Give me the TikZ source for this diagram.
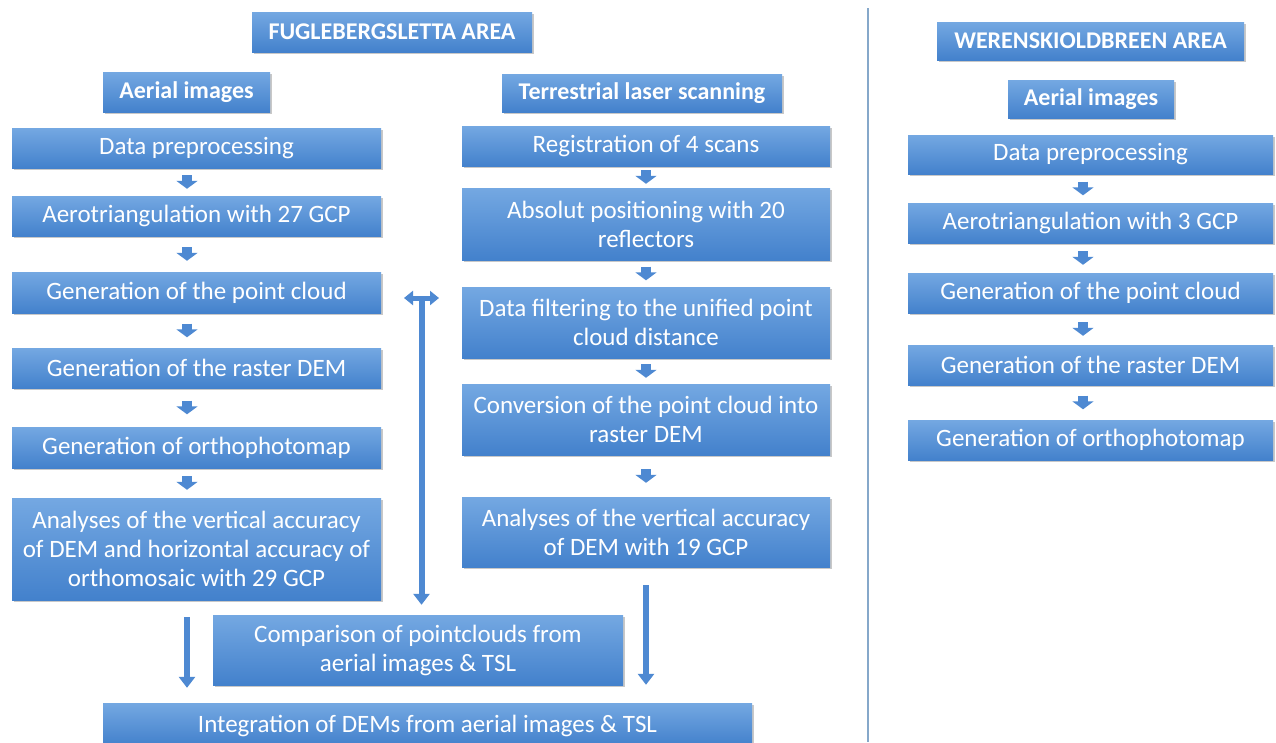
\documentclass[tikz,border=0pt]{standalone}
\usepackage{fontspec}
\setmainfont{Carlito}
\usetikzlibrary{arrows.meta,shadows,calc}
\definecolor{boxtop}{HTML}{74A8E2}
\definecolor{boxbot}{HTML}{4381CC}
\definecolor{arrblue}{HTML}{4E89D2}
\definecolor{divcol}{HTML}{86A8CA}
\begin{document}
\begin{tikzpicture}[x=1pt,y=-1pt,
  box/.style={rectangle, top color=boxtop, bottom color=boxbot, draw=none,
    text=white, align=center, inner sep=0pt,
    font=\fontsize{25}{29}\selectfont,
    drop shadow={shadow xshift=1.5pt, shadow yshift=-2pt, opacity=0.3, fill=black!70}},
  head/.style={box, font=\fontsize{24}{28}\selectfont\bfseries},
  sarr/.style={draw=arrblue, line width=10pt, -{Triangle[width=21pt,length=8pt]}},
  larr/.style={draw=arrblue, line width=6pt, -{Triangle[width=16pt,length=11pt]}},
  darr/.style={draw=arrblue, line width=5pt, {Triangle[width=14pt,length=9pt]}-{Triangle[width=14pt,length=9pt]}},
  divider/.style={draw=divcol, line width=1.5pt}
]
\useasboundingbox[fill=white] (0,0) rectangle (1276,742);

% headers
\node[head, minimum width=280, minimum height=40] (t1) at (392,32) {FUGLEBERGSLETTA AREA};
\node[head, minimum width=167, minimum height=40] (a1) at (186.5,92) {Aerial images};
\node[head, minimum width=280, minimum height=38] (tls) at (642,93) {Terrestrial laser scanning};
\node[head, minimum width=307, minimum height=38] (t2) at (1090.5,41) {WERENSKIOLDBREEN AREA};
\node[head, minimum width=166, minimum height=38] (a2) at (1091,99) {Aerial images};

% left column
\node[box, minimum width=369, minimum height=40] (L1) at (196.5,148) {Data preprocessing};
\node[box, minimum width=369, minimum height=40] (L2) at (196.5,216) {Aerotriangulation with 27 GCP};
\node[box, minimum width=369, minimum height=41] (L3) at (196.5,292.5) {Generation of the point cloud};
\node[box, minimum width=369, minimum height=40] (L4) at (196.5,368) {Generation of the raster DEM};
\node[box, minimum width=369, minimum height=41] (L5) at (196.5,447.5) {Generation of orthophotomap};
\node[box, minimum width=369, minimum height=102] (L6) at (196.5,549) {Analyses of the vertical accuracy\\of DEM and horizontal accuracy of\\orthomosaic with 29 GCP};

% middle column
\node[box, minimum width=368, minimum height=40] (M1) at (646,146) {Registration of 4 scans};
\node[box, minimum width=368, minimum height=72] (M2) at (646,224) {Absolut positioning with 20\\reflectors};
\node[box, minimum width=368, minimum height=71] (M3) at (646,322.5) {Data filtering to the unified point\\cloud distance};
\node[box, minimum width=368, minimum height=71] (M4) at (646,419.5) {Conversion of the point cloud into\\raster DEM};
\node[box, minimum width=368, minimum height=70] (M5) at (646,532) {Analyses of the vertical accuracy\\of DEM with 19 GCP};

% bottom
\node[box, minimum width=410, minimum height=70] (C) at (418,650) {Comparison of pointclouds from\\aerial images \& TSL};
\node[box, minimum width=649, minimum height=42, text depth=0pt] (I) at (427.5,724) {\raisebox{1pt}{Integration of DEMs from aerial images \& TSL}};

% right column
\node[box, minimum width=365, minimum height=39] (R1) at (1090.5,154.5) {Data preprocessing};
\node[box, minimum width=365, minimum height=40] (R2) at (1090.5,223) {Aerotriangulation with 3 GCP};
\node[box, minimum width=365, minimum height=40] (R3) at (1090.5,293) {Generation of the point cloud};
\node[box, minimum width=365, minimum height=40] (R4) at (1090.5,365) {Generation of the raster DEM};
\node[box, minimum width=365, minimum height=40] (R5) at (1090.5,440) {Generation of orthophotomap};

% small arrows, left column (x = 187)
\draw[sarr, shorten <=7pt, shorten >=7pt] ([xshift=-9.5pt]L1.south) -- ([xshift=-9.5pt]L2.north);
\draw[sarr, shorten <=11pt, shorten >=11pt] ([xshift=-9.5pt]L2.south) -- ([xshift=-9.5pt]L3.north);
\draw[sarr, shorten <=10.5pt, shorten >=10.5pt] ([xshift=-9.5pt]L3.south) -- ([xshift=-9.5pt]L4.north);
\draw[sarr, shorten <=12.5pt, shorten >=12.5pt] ([xshift=-9.5pt]L4.south) -- ([xshift=-9.5pt]L5.north);
\draw[sarr, shorten <=8pt, shorten >=8pt] ([xshift=-9.5pt]L5.south) -- ([xshift=-9.5pt]L6.north);

% small arrows, middle column
\draw[sarr, shorten <=4pt, shorten >=4pt] (M1.south) -- (M2.north);
\draw[sarr, shorten <=6.5pt, shorten >=6.5pt] (M2.south) -- (M3.north);
\draw[sarr, shorten <=6pt, shorten >=6pt] (M3.south) -- (M4.north);
\draw[sarr, shorten <=14pt, shorten >=14pt] (M4.south) -- (M5.north);

% small arrows, right column (x = 1083)
\draw[sarr, shorten <=7.5pt, shorten >=7.5pt] ([xshift=-7.5pt]R1.south) -- ([xshift=-7.5pt]R2.north);
\draw[sarr, shorten <=8pt, shorten >=8pt] ([xshift=-7.5pt]R2.south) -- ([xshift=-7.5pt]R3.north);
\draw[sarr, shorten <=9pt, shorten >=9pt] ([xshift=-7.5pt]R3.south) -- ([xshift=-7.5pt]R4.north);
\draw[sarr, shorten <=10.5pt, shorten >=10.5pt] ([xshift=-7.5pt]R4.south) -- ([xshift=-7.5pt]R5.north);

% long arrows
\draw[larr, shorten <=17pt, shorten >=15pt] ([xshift=-9.5pt]L6.south) -- ([xshift=-240.5pt]I.north);
\draw[larr, shorten <=18pt, shorten >=18pt] (M5.south) -- ([xshift=218.5pt]I.north);

% double arrow between columns
\coordinate (dl) at (404,298);
\coordinate (dr) at (439,298);
\coordinate (dm) at (421.5,296);
\draw[darr] (dl) -- (dr);
\draw[larr, shorten >=10pt] (dm) -- (dm |- C.north);

% divider
\coordinate (v1) at (868,8);
\coordinate (v2) at (868,742);
\draw[divider] (v1) -- (v2);
\end{tikzpicture}
\end{document}
